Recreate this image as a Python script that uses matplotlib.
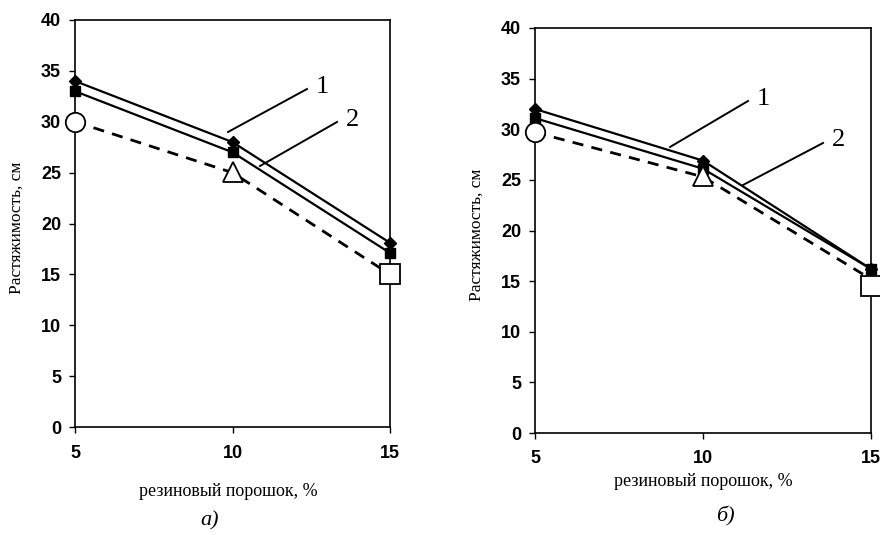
import matplotlib
matplotlib.use("Agg")
import matplotlib.pyplot as plt

# ---- data ----
x = [5, 10, 15]
xticks = [5, 10, 15]
yticks = [0, 5, 10, 15, 20, 25, 30, 35, 40]

# panel a
a_line1 = [34.0, 28.0, 18.1]   # diamonds (curve 1)
a_line2 = [33.0, 27.0, 17.1]   # squares (curve 2)
a_dash = [30.0, 25.0, 15.0]    # dashed reference line
a_circle = [30.0]
a_triangle = [25.1]
a_square = [15.0]

# panel b
b_line1 = [32.0, 26.9, 16.2]
b_line2 = [31.1, 26.1, 16.2]
b_dash = [29.7, 25.3, 15.2]
b_circle = [29.7]
b_triangle = [25.4]
b_square = [14.5]

xlabel = "резиновый порошок, %"
ylabel = "Растяжимость, см"
panel_labels = ["а)", "б)"]
curve_labels = ["1", "2"]

fig = plt.figure(figsize=(8.8, 5.35), dpi=100)

W, H = 880, 535

def add_axes_px(left, right, top, bottom):
    return fig.add_axes([left / W, 1 - bottom / H, (right - left) / W, (bottom - top) / H])

axA = add_axes_px(75, 390, 20, 427)
axB = add_axes_px(535, 871, 28, 433)

tickfont = dict(family="Liberation Sans", weight="bold", size=13)
serif = "Liberation Serif"

def draw(ax, l1, l2, dash, circ, tri, sq, xpad):
    ax.plot(x, dash, color="black", lw=2.0, ls=(0, (4, 3)), zorder=2, clip_on=False)
    ax.plot(x, l1, color="black", lw=1.6, marker="D", ms=6, mfc="black", mec="black", zorder=3, clip_on=False)
    ax.plot(x, l2, color="black", lw=1.6, marker="s", ms=7, mfc="black", mec="black", zorder=3, clip_on=False)
    ax.plot(x[:1], circ, ls="none", marker="o", ms=14, mfc="white", mec="black", mew=1.3, zorder=4, clip_on=False)
    ax.plot(x[1:2], tri, ls="none", marker="^", ms=15, mfc="white", mec="black", mew=1.3, zorder=4, clip_on=False)
    ax.plot(x[2:], sq, ls="none", marker="s", ms=14, mfc="white", mec="black", mew=1.3, zorder=4, clip_on=False)
    ax.set_xlim(5, 15)
    ax.set_ylim(0, 40)
    ax.set_xticks(xticks)
    ax.set_yticks(yticks)
    ax.set_xticklabels([str(v) for v in xticks], fontdict=tickfont)
    ax.set_yticklabels([str(v) for v in yticks], fontdict=tickfont)
    ax.tick_params(axis="y", direction="out", length=4, width=1, pad=6)
    ax.tick_params(axis="x", direction="out", length=4, width=1, pad=xpad)
    for s in ax.spines.values():
        s.set_linewidth(1.2)
        s.set_color("black")

draw(axA, a_line1, a_line2, a_dash, a_circle, a_triangle, a_square, 9)
draw(axB, b_line1, b_line2, b_dash, b_circle, b_triangle, b_square, 8)

def px_to_data(ax, px, py):
    inv = ax.transData.inverted()
    return inv.transform((px, H - py))

def leader(ax, p0, p1, txt, tpos):
    d0 = px_to_data(ax, *p0)
    d1 = px_to_data(ax, *p1)
    dt = px_to_data(ax, *tpos)
    ax.plot([d0[0], d1[0]], [d0[1], d1[1]], color="black", lw=1.4, clip_on=False, zorder=5)
    ax.text(dt[0], dt[1], txt, family=serif, size=19, ha="center", va="center", zorder=5)

leader(axA, (228, 132), (307, 89), curve_labels[0], (322, 87))
leader(axA, (260, 166), (337, 122), curve_labels[1], (352, 120))
leader(axB, (670, 147), (748, 101), curve_labels[0], (763, 99))
leader(axB, (743, 185), (823, 143), curve_labels[1], (838, 140))

# axis labels
fig.text(228 / W, 1 - 491 / H, xlabel, family=serif, size=13, ha="center", va="center")
fig.text(703 / W, 1 - 482 / H, xlabel, family=serif, size=13, ha="center", va="center")
fig.text(17 / W, 1 - 228 / H, ylabel, family=serif, size=12.5, ha="center", va="center", rotation=90)
fig.text(477 / W, 1 - 235 / H, ylabel, family=serif, size=12.5, ha="center", va="center", rotation=90)

fig.text(210 / W, 1 - 521 / H, panel_labels[0], family=serif, style="italic", size=16, ha="center", va="center")
fig.text(725 / W, 1 - 516 / H, panel_labels[1], family=serif, style="italic", size=16, ha="center", va="center")

fig.savefig("out.png", dpi=100)
